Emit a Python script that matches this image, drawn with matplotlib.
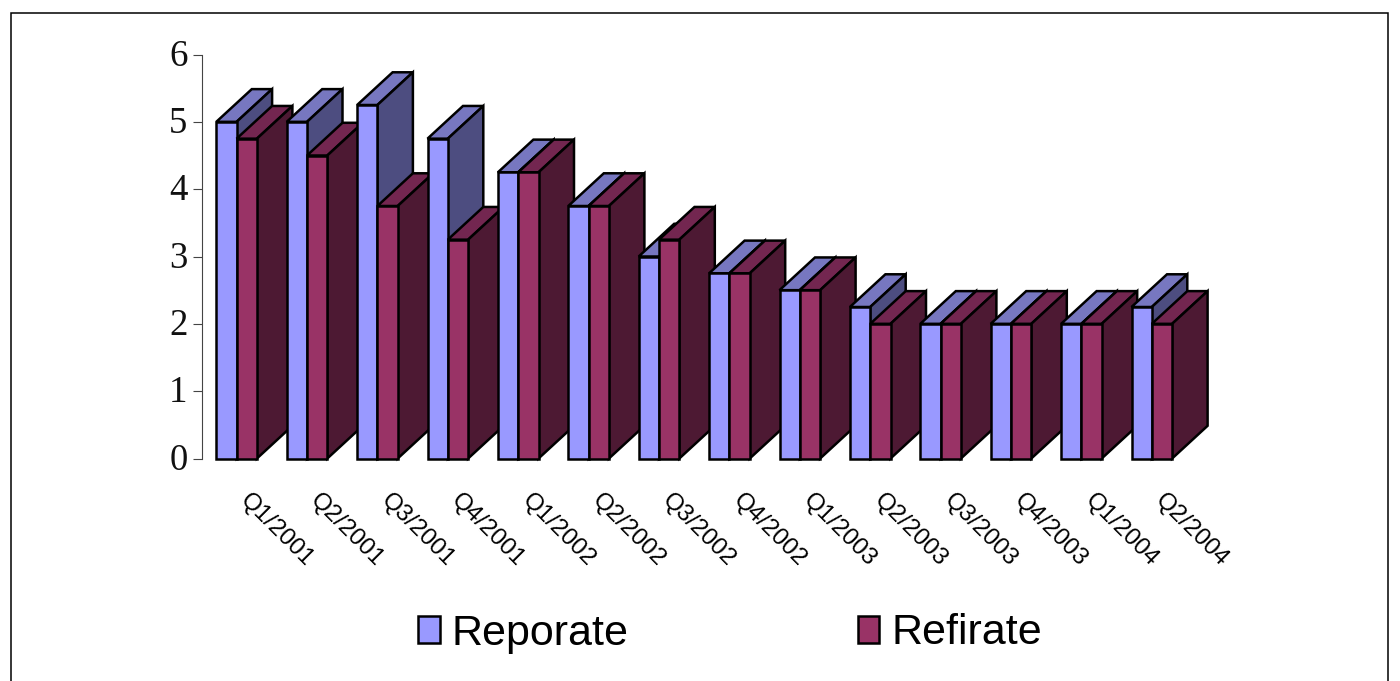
import matplotlib
matplotlib.use("Agg")
import matplotlib.pyplot as plt
from matplotlib.patches import Rectangle, Polygon
from matplotlib.transforms import Bbox, ScaledTranslation

quarters = ["Q1/2001", "Q2/2001", "Q3/2001", "Q4/2001", "Q1/2002", "Q2/2002", "Q3/2002",
            "Q4/2002", "Q1/2003", "Q2/2003", "Q3/2003", "Q4/2003", "Q1/2004", "Q2/2004"]
repo_rate = [5, 5, 5.25, 4.75, 4.25, 3.75, 3, 2.75, 2.5, 2.25, 2, 2, 2, 2.25]
refi_rate = [4.75, 4.5, 3.75, 3.25, 4.25, 3.75, 3.25, 2.75, 2.5, 2, 2, 2, 2, 2]
y_ticks = [0, 1, 2, 3, 4, 5, 6]

W, H = 1400, 681
PXX = 70.4   # pixels per category
PXY = 67.3   # pixels per value unit
BAR_W = 20.3 / PXX
DX = 35.5 / PXX
DY = 32.7 / PXY
REPO = ("#9999FF", "#7777C0", "#4D4D80")
REFI = ("#993366", "#732650", "#4D1933")
EDGE_LW = 1.8

fig = plt.figure(figsize=(W / 100, H / 100), dpi=100, facecolor="white")
L, R, T, B = 202.0, 1210.0, 54.5, 458.5
ax = fig.add_axes([L / W, 1 - B / H, (R - L) / W, (B - T) / H])
ax.set_xlim((L - 236.6) / PXX, (R - 236.6) / PXX)
ax.set_ylim(0, 6)
ax.patch.set_visible(False)
for s in ("top", "right", "bottom"):
    ax.spines[s].set_visible(False)
ax.spines["left"].set_color("#444444")
ax.spines["left"].set_linewidth(0.8)


def box(x, value, cols, z):
    x0, x1 = x, x + BAR_W
    top = [(x0, value), (x1, value), (x1 + DX, value + DY), (x0 + DX, value + DY)]
    side = [(x1, 0), (x1 + DX, DY), (x1 + DX, value + DY), (x1, value)]
    kw = dict(edgecolor="black", linewidth=EDGE_LW, joinstyle="miter", clip_on=False)
    ax.add_patch(Polygon(top, closed=True, facecolor=cols[1], zorder=z, **kw))
    ax.add_patch(Polygon(side, closed=True, facecolor=cols[2], zorder=z, **kw))
    return ax.bar(x0, value, width=BAR_W, align="edge", color=cols[0], zorder=z + 0.5, **kw)


h1 = h2 = None
for i, (a, b) in enumerate(zip(repo_rate, refi_rate)):
    h1 = box(i - BAR_W, a, REPO, 10 + 2 * i)
    h2 = box(i, b, REFI, 11 + 2 * i)

ax.set_yticks(y_ticks)
ax.set_yticklabels([str(v) for v in y_ticks], family="Liberation Serif", fontsize=26.5, color="#111111")
ax.tick_params(axis="y", length=6.5, width=0.8, color="#444444", pad=4)
shift_y = ScaledTranslation(0, 2 / 100, fig.dpi_scale_trans)
for t in ax.get_yticklabels():
    t.set_transform(t.get_transform() + shift_y)

ax.set_xticks(range(len(quarters)))
ax.set_xticklabels(quarters, rotation=-45, rotation_mode="anchor", ha="left", va="center",
                   family="Liberation Sans", fontsize=17.5)
ax.tick_params(axis="x", length=0, pad=28)
shift_x = ScaledTranslation(7 / 100, 0, fig.dpi_scale_trans)
clip = Bbox([[0, H - 565.5], [W, H]])
for t in ax.get_xticklabels():
    t.set_transform(t.get_transform() + shift_x)
    t.set_clip_box(clip)
    t.set_clip_on(True)

fig.legend([h1, h2], ["Reporate", "Refirate"], loc="center",
           bbox_to_anchor=(730 / W, 1 - 633.5 / H), ncol=2, frameon=False,
           prop={"family": "Liberation Sans", "size": 31},
           handlelength=0.5, handleheight=0.58, handletextpad=0.27,
           columnspacing=5.33, borderpad=0, borderaxespad=0)

fig.add_artist(Rectangle((10.5 / W, -0.05), (1388 - 10.5) / W, 1.05 - 12.5 / H,
                         transform=fig.transFigure, fill=False, edgecolor="black", linewidth=1.1))
fig.savefig("out.png", dpi=100)
